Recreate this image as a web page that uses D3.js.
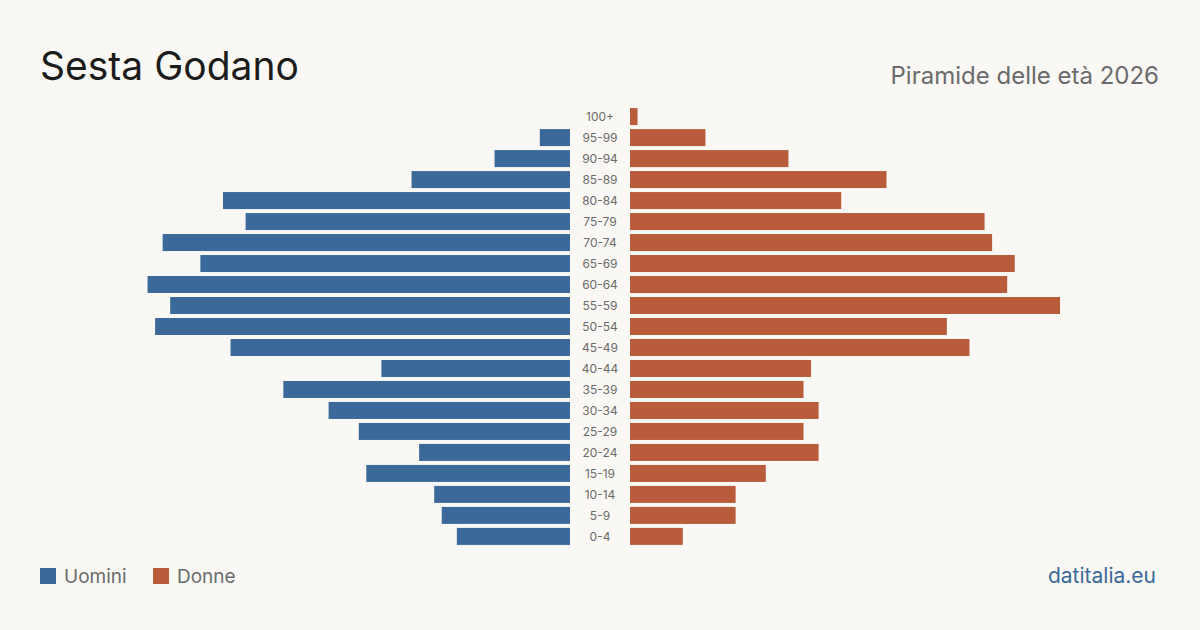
<!DOCTYPE html>
<html>
<head>
<meta charset="utf-8">
<script src="https://cdn.jsdelivr.net/npm/d3@7"></script>
<style>
  html, body { margin: 0; padding: 0; background: #f9f8f4; }
  svg { display: block; font-family: Inter, "Noto Sans", sans-serif; }
</style>
</head>
<body>
<div id="chart"></div>
<script>
var width = 1200;
var height = 630;

// classi di età, dall'alto verso il basso
var ageGroups = ["100+", "95-99", "90-94", "85-89", "80-84", "75-79", "70-74",
  "65-69", "60-64", "55-59", "50-54", "45-49", "40-44", "35-39", "30-34",
  "25-29", "20-24", "15-19", "10-14", "5-9", "0-4"];

var men = [0, 4, 10, 21, 46, 43, 54, 49, 56, 53, 55, 45, 25, 38, 32, 28, 20, 27, 18, 17, 15];
var women = [1, 10, 21, 34, 28, 47, 48, 51, 50, 57, 42, 45, 24, 23, 25, 23, 25, 18, 14, 14, 7];

var legendLabels = ["Uomini", "Donne"];

var colors = {
  men: "#3b6a9a",
  women: "#b85c3c",
  title: "#1c1c1c",
  muted: "#6b6b6b",
  link: "#3b6a9a"
};

var svg = d3.select("#chart")
  .append("svg")
  .attr("width", width)
  .attr("height", height);

var centerX = 600;
var gap = 30;

var x = d3.scaleLinear()
  .domain([0, 57])
  .range([0, 430]);

var y = d3.scaleBand()
  .domain(ageGroups)
  .range([106, 547])
  .paddingInner(0.19)
  .paddingOuter(0.1);

// barre uomini (a sinistra)
svg.selectAll("rect.men")
  .data(men)
  .enter()
  .append("rect")
  .attr("class", "men")
  .attr("x", function (d) { return centerX - gap - x(d); })
  .attr("y", function (d, i) { return y(ageGroups[i]); })
  .attr("width", function (d) { return x(d); })
  .attr("height", y.bandwidth())
  .attr("fill", colors.men);

// barre donne (a destra)
svg.selectAll("rect.women")
  .data(women)
  .enter()
  .append("rect")
  .attr("class", "women")
  .attr("x", centerX + gap)
  .attr("y", function (d, i) { return y(ageGroups[i]); })
  .attr("width", function (d) { return x(d); })
  .attr("height", y.bandwidth())
  .attr("fill", colors.women);

// etichette età al centro
svg.selectAll("text.age")
  .data(ageGroups)
  .enter()
  .append("text")
  .attr("class", "age")
  .attr("x", centerX)
  .attr("y", function (d) { return y(d) + y.bandwidth() / 2; })
  .attr("dy", "0.35em")
  .attr("text-anchor", "middle")
  .attr("font-size", 12)
  .attr("fill", colors.muted)
  .text(function (d) { return d; });

// titolo
svg.append("text")
  .attr("x", 40)
  .attr("y", 80)
  .attr("font-size", 39)
  .attr("fill", colors.title)
  .text("Sesta Godano");

svg.append("text")
  .attr("x", 1159)
  .attr("y", 84)
  .attr("text-anchor", "end")
  .attr("font-size", 24)
  .attr("fill", colors.muted)
  .text("Piramide delle età 2026");

// legenda
var legend = svg.selectAll("g.legend")
  .data(legendLabels)
  .enter()
  .append("g")
  .attr("class", "legend")
  .attr("transform", function (d, i) { return "translate(" + (40 + i * 113) + ",568)"; });

legend.append("rect")
  .attr("width", 16)
  .attr("height", 16)
  .attr("fill", function (d, i) { return i === 0 ? colors.men : colors.women; });

legend.append("text")
  .attr("x", 24)
  .attr("y", 15)
  .attr("font-size", 19)
  .attr("fill", colors.muted)
  .text(function (d) { return d; });

svg.append("text")
  .attr("x", 1156)
  .attr("y", 583)
  .attr("text-anchor", "end")
  .attr("font-size", 21)
  .attr("fill", colors.link)
  .text("datitalia.eu");
</script>
</body>
</html>
